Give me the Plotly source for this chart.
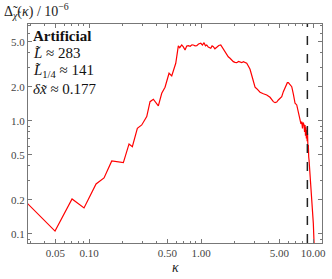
import plotly.graph_objects as go

# kappa values and Delta (in units of 1e-6)
kappa = [0.0222, 0.0497, 0.0705, 0.0902, 0.1155, 0.1361, 0.1595, 0.180, 0.2025,
         0.2276, 0.2436, 0.2700, 0.2955, 0.3275, 0.3504, 0.3751, 0.4157, 0.4458,
         0.4770, 0.5179, 0.5475, 0.5945, 0.6270, 0.645, 0.6724, 0.695, 0.7197,
         0.745, 0.7702, 0.80, 0.83, 0.8535, 0.885, 0.9154, 0.95, 0.9938, 1.03,
         1.0636, 1.095, 1.1243, 1.16, 1.2210, 1.255, 1.2879, 1.33, 1.381, 1.44,
         1.4995, 1.54, 1.5818, 1.64, 1.6963, 1.75, 1.815, 1.88, 1.943, 2.01,
         2.084, 2.16, 2.230, 2.31, 2.386, 2.47, 2.559, 2.65, 2.738, 2.88, 3.035,
         3.143, 3.364, 3.60, 3.860, 4.13, 4.421, 4.579, 4.74, 4.900, 5.08, 5.254,
         5.430, 5.66, 5.896, 6.019, 6.233, 6.454, 6.68, 6.908, 7.153, 7.40, 7.655,
         7.80, 7.928, 8.05, 8.15, 8.312, 8.40, 8.485, 8.56, 8.64, 8.72, 8.787,
         8.86, 8.93, 9.00, 9.080, 9.15, 9.211, 10.06, 10.21]
delta = [0.236, 0.106, 0.204, 0.170, 0.277, 0.313, 0.443, 0.435, 0.428,
         0.626, 0.592, 0.862, 0.922, 1.092, 1.482, 1.556, 1.357, 1.759,
         1.987, 2.643, 2.501, 3.240, 4.610, 4.45, 4.705, 4.52, 4.249,
         4.60, 4.638, 4.58, 4.72, 4.705, 4.62, 4.638, 4.80, 4.870, 4.70,
         4.930, 4.62, 4.705, 4.50, 4.399, 4.62, 4.546, 4.35, 4.490, 4.66,
         4.705, 4.50, 4.399, 4.05, 3.838, 3.70, 3.589, 3.45, 3.348, 3.30,
         3.280, 3.36, 3.328, 3.28, 3.348, 3.30, 3.240, 3.05, 2.868, 2.40, 1.99,
         1.93, 1.795, 1.74, 1.699, 1.62, 1.482, 1.452, 1.47, 1.534, 1.58, 1.641,
         1.817, 2.00, 2.182, 2.182, 2.083, 2.012, 1.72, 1.434, 1.386, 1.18, 1.020,
         0.94, 0.986, 0.86, 0.97, 0.922, 0.80, 0.92, 0.74, 0.88, 0.70, 0.833,
         0.66, 0.78, 0.58, 0.613, 0.48, 0.452, 0.124, 0.083]

cutoff = 8.9
xticks = [0.05, 0.1, 0.5, 1, 5, 10]
xticklabels = ["0.05", "0.10", "0.50", "1.00", "5.00", "10.00"]
yticks = [0.1, 0.2, 0.5, 1, 2, 5]
yticklabels = ["0.1", "0.2", "0.5", "1.0", "2.0", "5.0"]

serif = "Liberation Serif"

fig = go.Figure()
fig.add_trace(go.Scatter(x=kappa, y=delta, mode="lines",
                         line=dict(color="#ff0000", width=1.2),
                         showlegend=False, hoverinfo="skip"))

fig.add_vline(x=cutoff, line=dict(color="#222222", width=1.5, dash="dash"))

axis_common = dict(
    type="log", showgrid=False, zeroline=False, automargin=False,
    showline=True, linecolor="#777777", linewidth=1, mirror="allticks",
    ticks="inside", ticklen=4, tickcolor="#777777", ticklabeloverflow="allow",
    tickfont=dict(family=serif, size=11, color="#444444"),
    minor=dict(ticks="inside", ticklen=2, tickcolor="#777777", dtick="D1", showgrid=False),
)

fig.update_xaxes(range=[-1.545, 1.08], tickmode="array", tickvals=xticks,
                 ticktext=xticklabels, **axis_common)
fig.update_yaxes(range=[-1.08, 0.858], tickmode="array", tickvals=yticks,
                 ticktext=yticklabels, **axis_common)

# axis titles
fig.add_annotation(x=0, y=1, xref="paper", yref="paper", xanchor="left", yanchor="bottom",
                   xshift=-26, yshift=1, showarrow=False,
                   text="Δ̃<sub><i>χ̃</i></sub>(<i>κ</i>) / 10<sup>−6</sup>",
                   font=dict(family=serif, size=14, color="#222222"))
fig.add_annotation(x=0.5, y=0, xref="paper", yref="paper", xanchor="center", yanchor="top",
                   yshift=-15, showarrow=False, text="<i>κ</i>",
                   font=dict(family=serif, size=14, color="#222222"))

# info text
info = ["<b>Artificial</b>", "<i>L̃</i> ≈ 283", "<i>L̃</i><sub>1/4</sub> ≈ 141", "<i>δx̃</i> ≈ 0.177"]
ys = [36, 53, 71, 89]
for t, yy in zip(info, ys):
    fig.add_annotation(x=0, y=1, xref="paper", yref="paper", xanchor="left", yanchor="middle",
                       xshift=3, yshift=24 - yy, showarrow=False, text=t,
                       font=dict(family=serif, size=15, color="#111111"))

fig.update_layout(width=332, height=279,
                  margin=dict(l=28, r=10, t=24, b=36),
                  plot_bgcolor="white", paper_bgcolor="white")

# page body has a default margin; drop it so the figure sits at the window corner
fig.write_html("out.html", config={"displayModeBar": False},
               post_script="document.body.style.margin='0px';")
